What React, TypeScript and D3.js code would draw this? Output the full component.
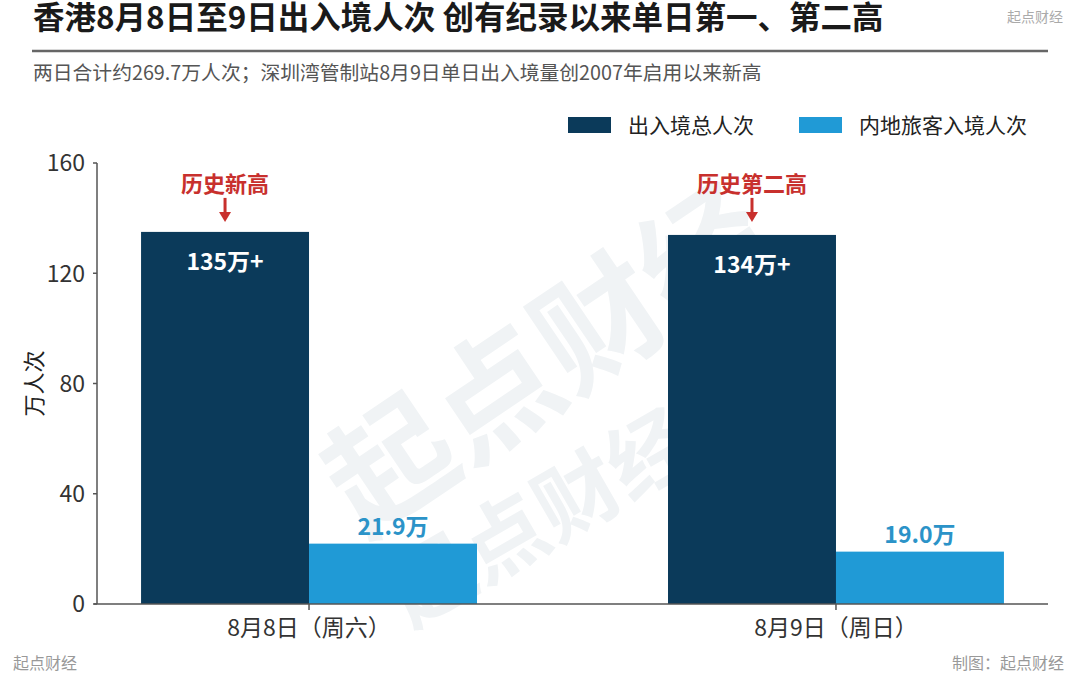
import * as d3 from "d3";

const days = ["8月8日（周六）", "8月9日（周日）"];
const seriesNames = ["出入境总人次", "内地旅客入境人次"];
const totalTrips = [135, 133.9];
const mainlandArrivals = [21.9, 19.0];
const totalLabels = ["135万+", "134万+"];
const mainlandLabels = ["21.9万", "19.0万"];
const recordNotes = ["历史新高", "历史第二高"];
const yTicks = [0, 40, 80, 120, 160];

const colors = ["#0b3a5a", "#209ad6"];
const font = "'Noto Sans CJK SC', 'Noto Sans', sans-serif";

export default function App() {
  const width = 1080;
  const height = 679;
  const margin = { left: 97, right: 1048, top: 163, bottom: 604 };

  const y = d3.scaleLinear().domain([0, 160]).range([margin.bottom, margin.top]);
  const x0 = d3
    .scaleBand<string>()
    .domain(days)
    .range([margin.left, margin.right])
    .paddingInner(0.3625)
    .paddingOuter(0.0836);
  const x1 = d3.scaleBand<string>().domain(seriesNames).range([0, x0.bandwidth()]);

  const values = [totalTrips, mainlandArrivals];
  const noteY = y(d3.max(totalTrips) as number) - 40;

  return (
    <>
      <style>{`body{margin:0;background:#fff}`}</style>
      <svg width={width} height={height} viewBox={`0 0 ${width} ${height}`} style={{ display: "block", fontFamily: font }}>
        <rect width={width} height={height} fill="#fff" />

        {/* watermark, sits under the bars */}
        <g fill="#f0f3f5" fontWeight={700}>
          <text x={542} y={351} fontSize={126} textAnchor="middle" dominantBaseline="central" transform="rotate(-34 542 351)">
            起点财经
          </text>
          <text x={538} y={512} fontSize={84} textAnchor="middle" dominantBaseline="central" transform="rotate(-30 538 512)">
            起点财经
          </text>
        </g>

        {/* header */}
        <text x={33} y={29} fontSize={31.5} fontWeight={700} fill="#1a1a1a">
          香港8月8日至9日出入境人次 创有纪录以来单日第一、第二高
        </text>
        <text x={1063} y={22} fontSize={14} fill="#aaaaaa" textAnchor="end">
          起点财经
        </text>
        <line x1={32} x2={1048} y1={51} y2={51} stroke="#666" strokeWidth={2.5} />
        <text x={33} y={80} fontSize={19.8} fill="#555">
          两日合计约269.7万人次；深圳湾管制站8月9日单日出入境量创2007年启用以来新高
        </text>

        {/* legend */}
        {seriesNames.map((name, i) => {
          const lx = [568, 799][i];
          return (
            <g key={name}>
              <rect x={lx} y={117} width={43} height={16} fill={colors[i]} />
              <text x={lx + 60} y={133} fontSize={21} fill="#222">
                {name}
              </text>
            </g>
          );
        })}

        {/* bars */}
        {days.map((day, di) => (
          <g key={day} transform={`translate(${x0(day)},0)`}>
            {seriesNames.map((name, si) => {
              const v = values[si][di];
              return (
                <rect
                  key={name}
                  x={x1(name)}
                  y={y(v)}
                  width={x1.bandwidth()}
                  height={y(0) - y(v)}
                  fill={colors[si]}
                />
              );
            })}
            <text
              x={(x1(seriesNames[0]) as number) + x1.bandwidth() / 2}
              y={y(totalTrips[di]) + 38}
              fontSize={23}
              fontWeight={700}
              fill="#fff"
              textAnchor="middle"
            >
              {totalLabels[di]}
            </text>
            <text
              x={(x1(seriesNames[1]) as number) + x1.bandwidth() / 2}
              y={y(mainlandArrivals[di]) - 9}
              fontSize={23}
              fontWeight={700}
              fill="#2b93c8"
              textAnchor="middle"
            >
              {mainlandLabels[di]}
            </text>
            {(() => {
              const cx = (x1(seriesNames[0]) as number) + x1.bandwidth() / 2;
              return (
                <g fill="#c8302d">
                  <text x={cx} y={noteY} fontSize={22} fontWeight={700} textAnchor="middle">
                    {recordNotes[di]}
                  </text>
                  <line x1={cx} x2={cx} y1={noteY + 6} y2={noteY + 22} stroke="#c8302d" strokeWidth={3} />
                  <path d={`M${cx - 6},${noteY + 20} L${cx + 6},${noteY + 20} L${cx},${noteY + 30} Z`} />
                </g>
              );
            })()}
          </g>
        ))}

        {/* y axis */}
        <line x1={margin.left} x2={margin.left} y1={margin.top} y2={margin.bottom} stroke="#555" strokeWidth={1.5} />
        {yTicks.map((t) => (
          <g key={t} transform={`translate(0,${y(t)})`}>
            <line x1={margin.left - 4} x2={margin.left} stroke="#555" strokeWidth={1.5} />
            <text x={85} dy="0.36em" fontSize={23} fill="#333" textAnchor="end">
              {t}
            </text>
          </g>
        ))}
        <text
          transform={`translate(32,${(margin.top + margin.bottom) / 2}) rotate(-90)`}
          fontSize={22}
          fill="#222"
          textAnchor="middle"
          dominantBaseline="central"
        >
          万人次
        </text>

        {/* x axis */}
        <line x1={94} x2={margin.right} y1={y(0)} y2={y(0)} stroke="#555" strokeWidth={1.5} />
        {days.map((day) => {
          const cx = (x0(day) as number) + x0.bandwidth() / 2;
          return (
            <g key={day}>
              <line x1={cx} x2={cx} y1={y(0)} y2={y(0) + 6} stroke="#555" strokeWidth={1.5} />
              <text x={cx} y={636} fontSize={23} fill="#333" textAnchor="middle">
                {day}
              </text>
            </g>
          );
        })}

        {/* footer */}
        <text x={13} y={669} fontSize={16} fill="#999">
          起点财经
        </text>
        <text x={1064} y={669} fontSize={16} fill="#999" textAnchor="end">
          制图：起点财经
        </text>
      </svg>
    </>
  );
}
